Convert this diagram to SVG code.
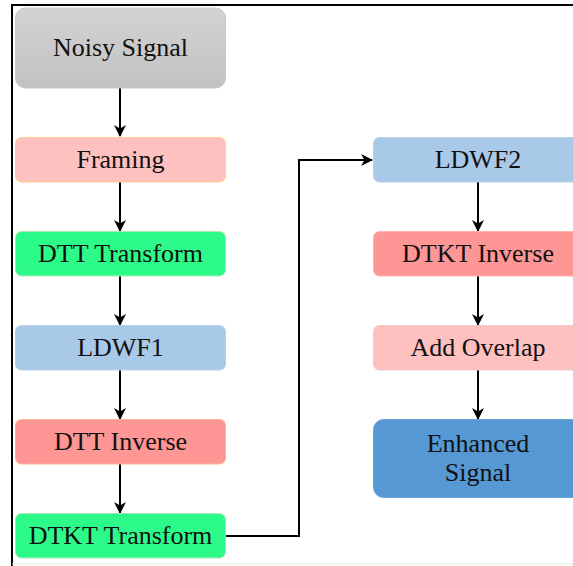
<svg xmlns="http://www.w3.org/2000/svg" width="573" height="566" viewBox="0 0 573 566">
<defs>
<linearGradient id="gGray" x1="0" y1="0" x2="0" y2="1"><stop offset="0" stop-color="#d3d3d3"/><stop offset="1" stop-color="#c2c2c2"/></linearGradient>
<marker id="arr" viewBox="0 0 12 12" refX="11" refY="6" markerWidth="12" markerHeight="12" markerUnits="userSpaceOnUse" orient="auto"><path d="M0,0 L12,6 L0,12 L3.5,6 Z" fill="#000"/></marker>
</defs>
<style>
text{font-family:"Liberation Serif","DejaVu Serif",serif;font-size:26px;fill:#111;text-anchor:middle;dominant-baseline:central}
.c{fill:none;stroke:#000;stroke-width:2}
</style>
<rect width="573" height="566" fill="#fff"/>
<path d="M12,566 V5 H573" fill="none" stroke="#000" stroke-width="2"/>
<line x1="12" y1="564" x2="573" y2="564" stroke="#e6e6e6" stroke-width="1"/>
<g id="connectors">
<path class="c" d="M120,88 V136" marker-end="url(#arr)"/>
<path class="c" d="M120,182 V231" marker-end="url(#arr)"/>
<path class="c" d="M120,276 V325" marker-end="url(#arr)"/>
<path class="c" d="M120,370 V419" marker-end="url(#arr)"/>
<path class="c" d="M120,464 V513" marker-end="url(#arr)"/>
<path class="c" d="M226,536 H299 V160 H372" marker-end="url(#arr)"/>
<path class="c" d="M478,182 V231" marker-end="url(#arr)"/>
<path class="c" d="M478,276 V325" marker-end="url(#arr)"/>
<path class="c" d="M478,370 V419" marker-end="url(#arr)"/>
</g>
<g id="noisy"><rect x="15.5" y="8" width="210" height="80" rx="10" fill="url(#gGray)" stroke="#c8c8c8"/><text x="120.5" y="47">Noisy Signal</text></g>
<g id="framing"><rect x="15.5" y="137.5" width="210" height="44.5" rx="6" fill="#ffc0c0" stroke="#ffd08a"/><text x="120.5" y="159.5">Framing</text></g>
<g id="dtt"><rect x="15.5" y="231.5" width="210" height="44.5" rx="6" fill="#2dfb89" stroke="#aee8b8"/><text x="120.5" y="253.5">DTT Transform</text></g>
<g id="ldwf1"><rect x="15.5" y="325.5" width="210" height="44.5" rx="6" fill="#a9c9e8" stroke="#b8cfe6"/><text x="120.5" y="347.5">LDWF1</text></g>
<g id="dttinv"><rect x="15.5" y="419.5" width="210" height="44.5" rx="6" fill="#ff9696" stroke="#ffb38a"/><text x="120.5" y="441.5">DTT Inverse</text></g>
<g id="dtkt"><rect x="15.5" y="513.5" width="210" height="44.5" rx="6" fill="#2dfb89" stroke="#aee8b8"/><text x="120.5" y="535.5">DTKT Transform</text></g>
<g id="ldwf2"><rect x="373.5" y="137.5" width="210" height="44.5" rx="6" fill="#a9c9e8" stroke="#b8cfe6"/><text x="478" y="159.5">LDWF2</text></g>
<g id="dtktinv"><rect x="373.5" y="231.5" width="210" height="44.5" rx="6" fill="#ff9696" stroke="#ffb0b0"/><text x="478" y="253.5">DTKT Inverse</text></g>
<g id="addov"><rect x="373.5" y="325.5" width="210" height="44.5" rx="6" fill="#ffc0c0" stroke="#f0c8c8"/><text x="478" y="347.5">Add Overlap</text></g>
<g id="enh"><rect x="373.5" y="419.5" width="210" height="78" rx="10" fill="#5598d4" stroke="#6aa3d6"/><text x="478" y="443">Enhanced</text><text x="478" y="472">Signal</text></g>
</svg>
